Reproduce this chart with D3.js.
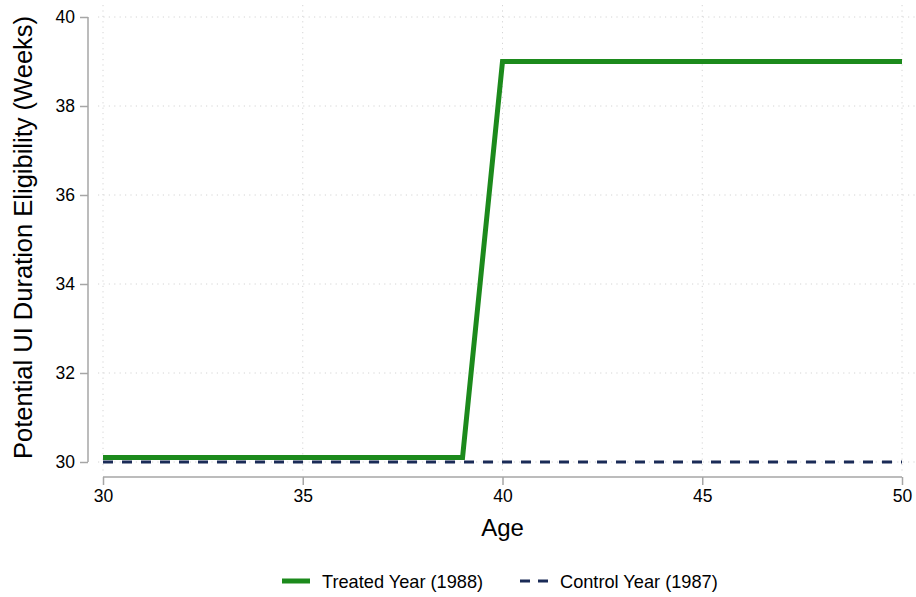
<!DOCTYPE html>
<html>
<head>
<meta charset="utf-8">
<script src="https://cdn.jsdelivr.net/npm/d3@7"></script>
<style>
  html, body { margin: 0; padding: 0; background: #fff; }
  svg { display: block; font-family: "Liberation Sans", Arial, sans-serif; }
</style>
</head>
<body>
<svg id="chart" width="916" height="597"></svg>
<script>
// Potential UI duration eligibility by age
const ages = [30,31,32,33,34,35,36,37,38,39,40,41,42,43,44,45,46,47,48,49,50];
const treatedWeeks = [30.1,30.1,30.1,30.1,30.1,30.1,30.1,30.1,30.1,30.1,39,39,39,39,39,39,39,39,39,39,39];
const controlWeeks = [30,30,30,30,30,30,30,30,30,30,30,30,30,30,30,30,30,30,30,30,30];
const xTicks = [30,35,40,45,50];
const yTicks = [30,32,34,36,38,40];
const legendLabels = ["Treated Year (1988)", "Control Year (1987)"];

const svg = d3.select("#chart");
const x = d3.scaleLinear().domain([30, 50]).range([103, 902]);
const y = d3.scaleLinear().domain([30, 40]).range([462, 17]);

const gridColor = "#d4d4d4";
const axisColor = "#a6a6a6";

// grid
const grid = svg.append("g");
grid.selectAll(".hg").data(yTicks).join("line")
  .attr("x1", 98).attr("x2", 916)
  .attr("y1", d => y(d)).attr("y2", d => y(d))
  .attr("stroke", gridColor).attr("stroke-width", 1)
  .attr("stroke-dasharray", "1.2,4.2");
grid.selectAll(".vg").data(xTicks).join("line")
  .attr("x1", d => x(d)).attr("x2", d => x(d))
  .attr("y1", 5).attr("y2", 474)
  .attr("stroke", gridColor).attr("stroke-width", 1)
  .attr("stroke-dasharray", "1.2,4.2");

// axes
const yAxis = d3.axisLeft(y).tickValues(yTicks).tickSize(8).tickPadding(5).tickFormat(d3.format("d"));
const gy = svg.append("g").attr("transform", "translate(88,0)").call(yAxis);
const xAxis = d3.axisBottom(x).tickValues(xTicks).tickSize(8).tickPadding(5).tickFormat(d3.format("d"));
const gx = svg.append("g").attr("transform", "translate(0,477)").call(xAxis);
[gx, gy].forEach(g => {
  g.select(".domain").attr("stroke", axisColor).attr("stroke-width", 1.5);
  g.selectAll(".tick line").attr("stroke", axisColor).attr("stroke-width", 1.5);
  g.selectAll(".tick text").attr("fill", "#000").style("font-size", "17.5px")
    .style("font-family", "'Liberation Sans', Arial, sans-serif");
});
gy.select(".domain").attr("d", `M0,${y(40)}V${y(30)}`);
gx.select(".domain").attr("d", `M${x(30)},0H${x(50)}`);

// axis titles
svg.append("text").attr("x", x(40)).attr("y", 536)
  .attr("text-anchor", "middle").style("font-size", "24px").text("Age");
svg.append("text")
  .attr("transform", `translate(32,${y(35) - 2}) rotate(-90)`)
  .attr("text-anchor", "middle").style("font-size", "25.5px")
  .text("Potential UI Duration Eligibility (Weeks)");

// series
const green = "#1c8a1c";
const navy = "#1a2b57";
const line = d3.line().x((d, i) => x(ages[i])).y(d => y(d));

svg.append("path").datum(controlWeeks).attr("d", line)
  .attr("fill", "none").attr("stroke", navy).attr("stroke-width", 3)
  .attr("stroke-dasharray", "10,9");
svg.append("path").datum(treatedWeeks).attr("d", line)
  .attr("fill", "none").attr("stroke", green).attr("stroke-width", 5)
  .attr("stroke-linejoin", "miter");

// legend
const leg = svg.append("g");
leg.append("line").attr("x1", 282).attr("x2", 310).attr("y1", 581).attr("y2", 581)
  .attr("stroke", green).attr("stroke-width", 5);
leg.append("text").attr("x", 322).attr("y", 587.5).style("font-size", "18.2px").text(legendLabels[0]);
leg.append("line").attr("x1", 520).attr("x2", 548).attr("y1", 581).attr("y2", 581)
  .attr("stroke", navy).attr("stroke-width", 3).attr("stroke-dasharray", "10,8");
leg.append("text").attr("x", 560).attr("y", 587.5).style("font-size", "18.2px").text(legendLabels[1]);
</script>
</body>
</html>
